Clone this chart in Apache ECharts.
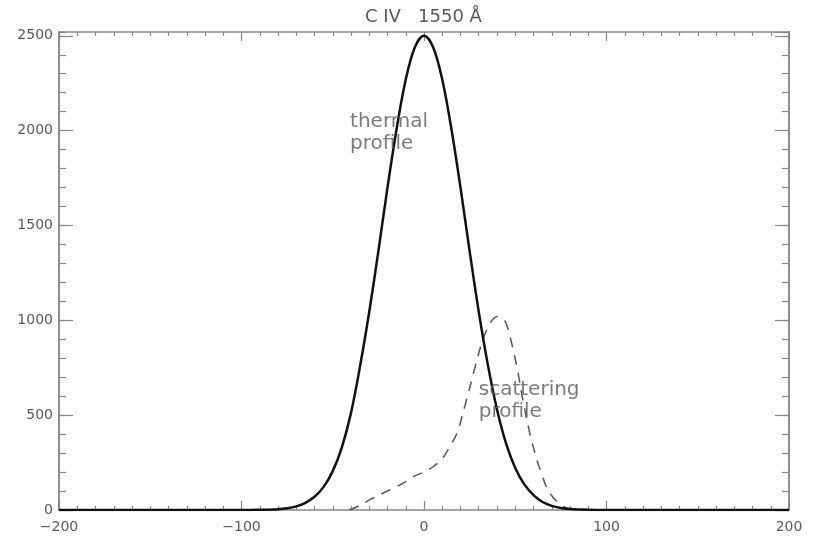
<!DOCTYPE html>
<html>
<head>
<meta charset="utf-8">
<script src="https://cdn.jsdelivr.net/npm/echarts@6/dist/echarts.min.js"></script>
<style>
  html, body { margin: 0; padding: 0; background: #fff; }
  #main { width: 817px; height: 539px; }
</style>
</head>
<body>
<div id="main"></div>
<script>
// thermal profile (solid), velocity in km/s
var thermalVel = [-200, -100, -90, -80, -75, -70, -65, -60, -55, -50, -45, -40, -35, -30, -25, -20, -15, -10, -5, 0,
                  5, 10, 15, 20, 25, 30, 35, 40, 45, 50, 55, 60, 65, 70, 75, 80, 90, 100, 200];
var thermalInt = [0, 0, 1, 4, 9, 19, 38, 70, 122, 205, 330, 512, 760, 1045, 1365, 1700, 2010, 2270, 2440, 2500,
                  2440, 2270, 2010, 1700, 1365, 1045, 765, 530, 350, 222, 135, 78, 42, 22, 11, 5, 1, 0, 0];

// scattering profile (dashed)
var scatVel = [-41, -35, -30, -25, -20, -15, -10, -5, 0, 5, 10, 13, 18, 23, 28, 32, 36, 40, 43, 45,
               48, 51, 54, 58, 62, 65, 67, 70, 74, 78, 82, 86];
var scatInt = [0, 25, 52, 78, 100, 123, 150, 180, 200, 228, 270, 316, 404, 570, 754, 890, 980, 1020, 1010, 985,
               880, 750, 590, 404, 260, 175, 123, 75, 35, 12, 3, 0];

// annotations: [velocity, intensity, text]
var notes = [
  [-40.5, 2105, 'thermal\nprofile'],
  [30, 692, 'scattering\nprofile']
];

var titleText = 'C IV   1550 Å';

var axisGray = '#888';
var textGray = '#5a5a5a';
var fontFam = 'DejaVu Sans';

function zip(a, b) {
  var out = [];
  for (var i = 0; i < a.length; i++) out.push([a[i], b[i]]);
  return out;
}

var myChart = echarts.init(document.getElementById('main'));

function yAx(pos, step, len, labels) {
  return {
    type: 'value',
    position: pos,
    min: 0,
    max: 2520,
    interval: step,
    axisLine: { show: true, onZero: false, lineStyle: { color: axisGray, width: 1.5 } },
    axisTick: { show: true, inside: true, length: len, lineStyle: { color: axisGray, width: 1.2 } },
    splitLine: { show: false },
    axisLabel: {
      show: labels,
      showMaxLabel: false,
      margin: 6,
      color: textGray,
      fontFamily: fontFam,
      fontSize: 14,
      formatter: function (v) { return v % 500 === 0 ? String(v) : ''; }
    }
  };
}

function xAx(pos, labels) {
  return {
    type: 'value',
    position: pos,
    min: -200,
    max: 200,
    interval: 100,
    axisLine: { show: true, onZero: false, lineStyle: { color: axisGray, width: 1.5 } },
    axisTick: { show: true, inside: true, length: 9, lineStyle: { color: axisGray, width: 1.2 } },
    minorTick: { show: true, splitNumber: 10, length: 4, lineStyle: { color: axisGray, width: 1.2 } },
    splitLine: { show: false },
    minorSplitLine: { show: false },
    axisLabel: {
      show: labels,
      margin: 10,
      color: textGray,
      fontFamily: fontFam,
      fontSize: 14,
      formatter: function (v) { return String(v).replace('-', '\u2212'); }
    }
  };
}

myChart.setOption({
  animation: false,
  backgroundColor: '#fff',
  title: {
    text: titleText,
    left: 360,
    top: 3,
    textStyle: { color: textGray, fontFamily: fontFam, fontSize: 18, fontWeight: 'normal' }
  },
  grid: { left: 59, right: 28, top: 32, bottom: 29 },
  xAxis: [xAx('bottom', true), xAx('top', false)],
  yAxis: [
    yAx('left', 500, 14, true),
    yAx('left', 100, 7, false),
    yAx('right', 500, 14, false),
    yAx('right', 100, 7, false)
  ],
  series: [
    {
      name: 'thermal',
      type: 'line',
      data: zip(thermalVel, thermalInt),
      showSymbol: false,
      smooth: 0.35,
      lineStyle: { color: '#111', width: 2.5 },
      z: 5
    },
    {
      name: 'scattering',
      type: 'line',
      data: zip(scatVel, scatInt),
      showSymbol: false,
      smooth: 0.35,
      lineStyle: { color: '#555', width: 1.5, type: [10, 8] },
      z: 4
    },
    {
      name: 'notes',
      type: 'scatter',
      symbolSize: 0,
      silent: true,
      data: notes.map(function (n) { return { value: [n[0], n[1]], name: n[2] }; }),
      label: {
        show: true,
        position: [0, 0],
        align: 'left',
        verticalAlign: 'top',
        formatter: function (p) { return p.name; },
        color: textGray,
        fontFamily: fontFam,
        fontSize: 20,
        lineHeight: 22
      },
      z: 6
    }
  ]
});
</script>
</body>
</html>
